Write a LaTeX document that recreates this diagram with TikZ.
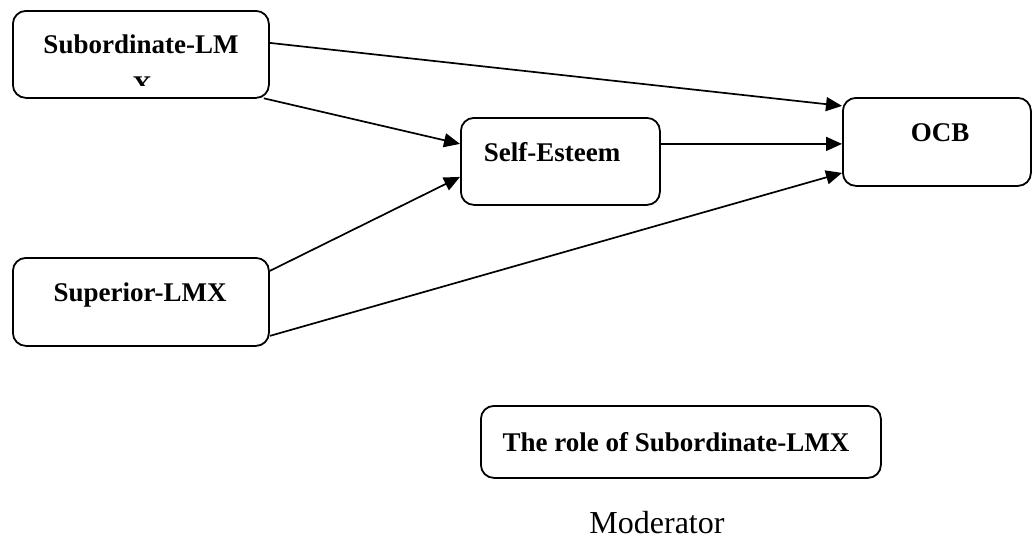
\documentclass[tikz,border=0pt]{standalone}
\usepackage{fontspec}
\setmainfont{Liberation Serif}
\usetikzlibrary{arrows.meta}
\begin{document}
\begin{tikzpicture}[x=1pt,y=-1pt,
  box/.style={draw=black, line width=1.8pt, rounded corners=13pt, inner sep=0pt, fill=none},
  lbl/.style={font=\fontsize{27}{27}\selectfont\bfseries, inner sep=0pt, anchor=base},
  arr/.style={line width=1.7pt, -{Triangle[length=16pt,width=14pt]}}]
\useasboundingbox (0,0) rectangle (1032,541);
% boxes
\node[box, minimum width=256pt, minimum height=87pt, anchor=north west] (sub) at (12,10) {};
\node[box, minimum width=199pt, minimum height=87pt, anchor=north west] (se) at (460,117) {};
\node[box, minimum width=188pt, minimum height=88pt, anchor=north west] (ocb) at (842,97) {};
\node[box, minimum width=256pt, minimum height=88pt, anchor=north west] (sup) at (12,257) {};
\node[box, minimum width=400pt, minimum height=72pt, anchor=north west] (mod) at (480,405) {};
% labels
\node[lbl] (subt) at (141,53) {Subordinate-LM};
\begin{scope}
  \clip (12,60) rectangle (268,85);
  \node[lbl] (subx) at (142,94) {X};
\end{scope}
\node[lbl] (set) at (552,161) {Self-Esteem};
\node[lbl] (ocbt) at (940,141) {OCB};
\node[lbl] (supt) at (140,301) {Superior-LMX};
\node[lbl] (modt) at (676,451) {The role of Subordinate-LMX};
\node[font=\fontsize{32}{32}\selectfont, inner sep=0pt, anchor=base] (modl) at (657,533) {Moderator};
% arrows
\draw[arr] ([yshift=11.5pt]sub.east) -- ([yshift=36pt]ocb.west);
\draw[arr] ([xshift=-6pt,yshift=0.5pt]sub.south east) -- ([yshift=17.5pt]se.west);
\draw[arr] ([yshift=31pt]sup.east) -- ([yshift=-15.5pt]se.west);
\draw[arr] ([yshift=-34pt]sup.east) -- ([yshift=-31pt]ocb.west);
\draw[arr] ([yshift=17.5pt]se.east) -- ([yshift=-2pt]ocb.west);
\end{tikzpicture}
\end{document}
